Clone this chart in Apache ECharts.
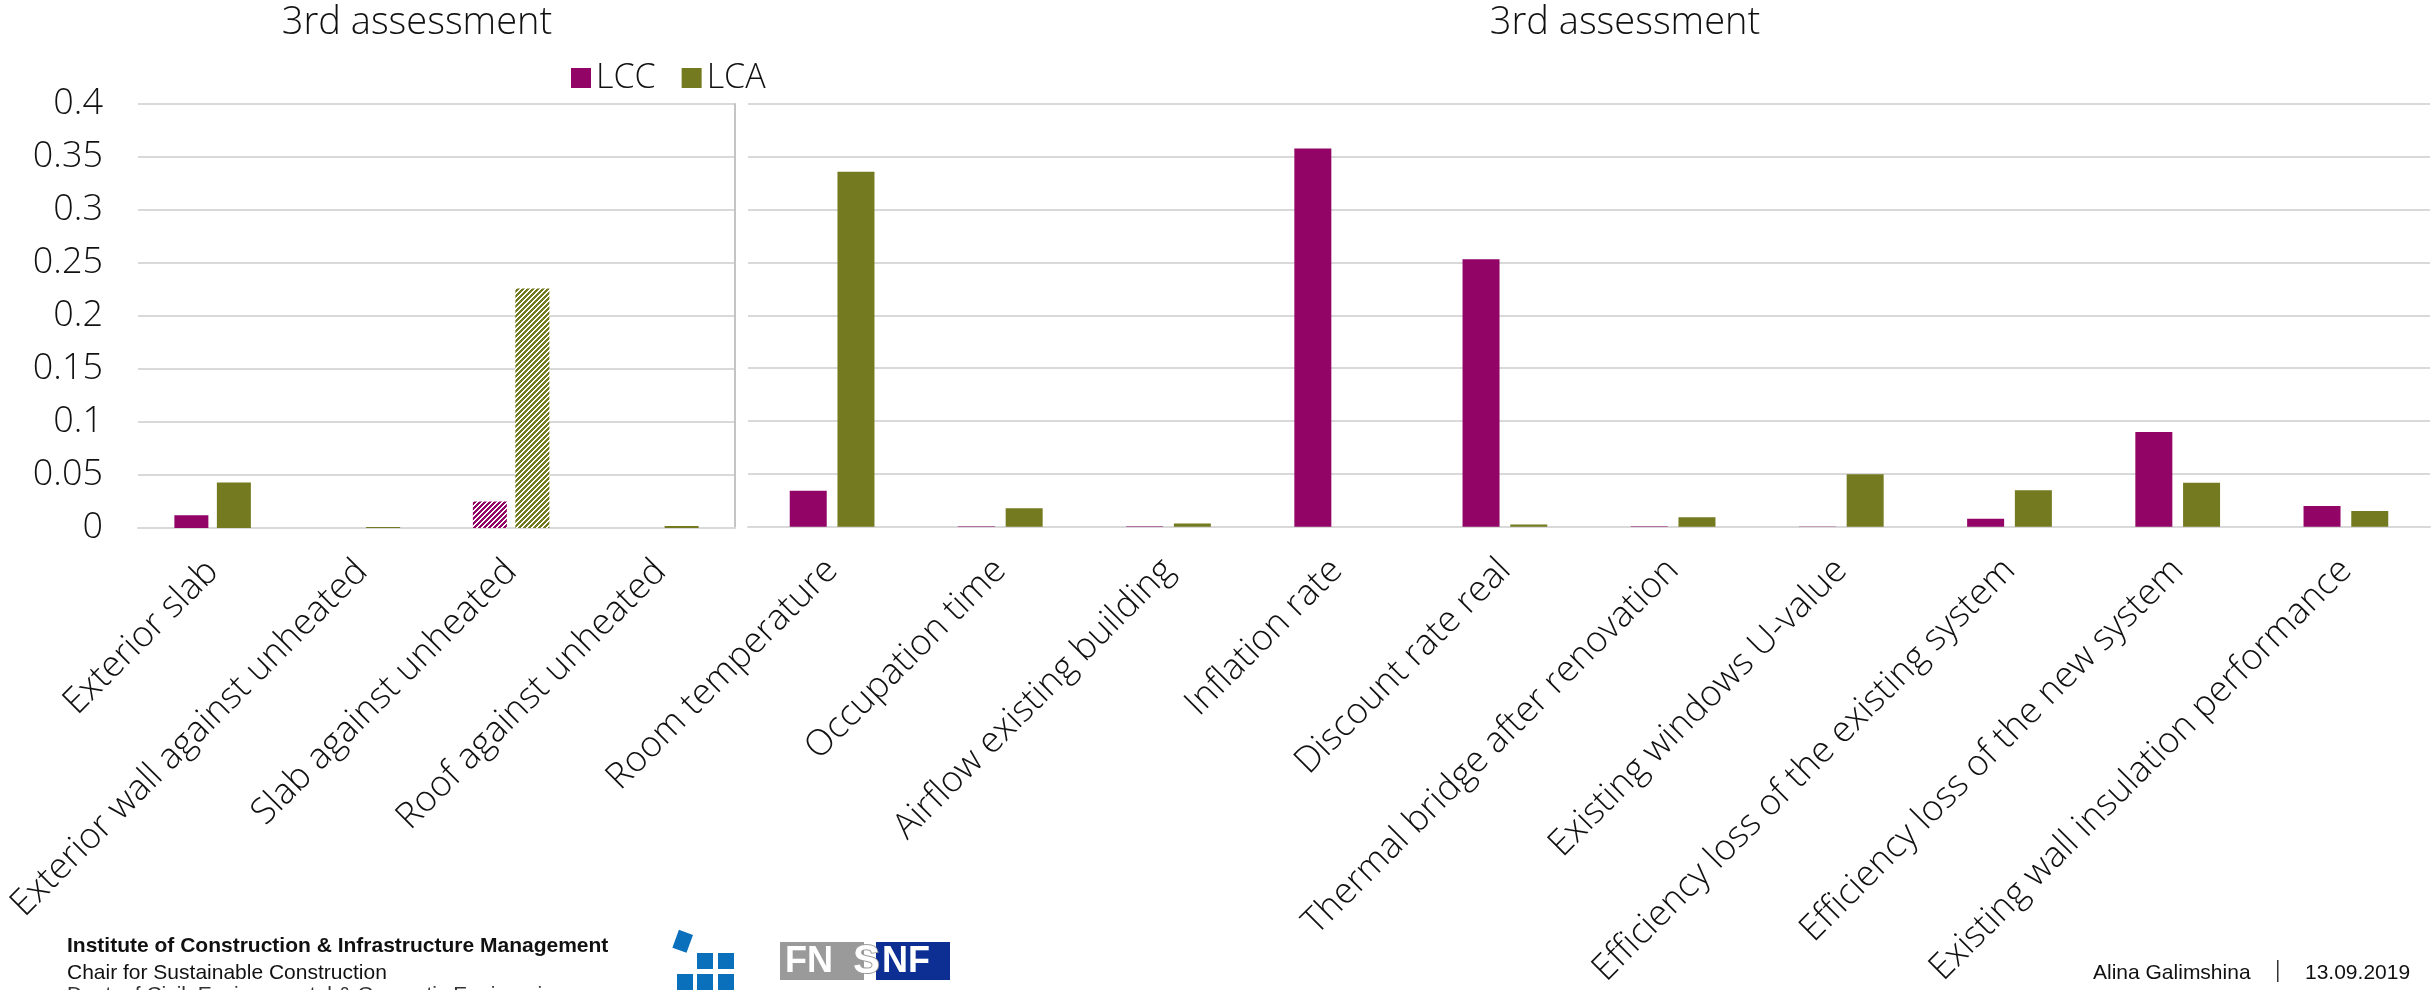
<!DOCTYPE html>
<html>
<head>
<meta charset="utf-8">
<title>3rd assessment – LCC / LCA sensitivity</title>
<script src="https://cdn.jsdelivr.net/npm/echarts@6/dist/echarts.min.js"></script>
<style>
  html, body { margin: 0; padding: 0; background: #fff; }
  #chart { width: 2432px; height: 990px; }
</style>
</head>
<body>
<div id="chart"></div>
<script>
// Building-element parameters (left panel)
const elementCategories = [
  'Exterior slab',
  'Exterior wall against unheated',
  'Slab against unheated',
  'Roof against unheated'
];
const elementLCC = [0.012, 0, 0.025, 0];
const elementLCA = [0.043, 0.001, 0.226, 0.002];
// elements drawn with a hatched fill
const hatchedElements = ['Slab against unheated'];

// Operational / economic parameters (right panel)
const parameterCategories = [
  'Room temperature',
  'Occupation time',
  'Airflow existing building',
  'Inflation rate',
  'Discount rate real',
  'Thermal bridge after renovation',
  'Existing windows U-value',
  'Efficiency loss of the existing system',
  'Efficiency loss of the new system',
  'Existing wall insulation performance'
];
const parameterLCC = [0.034, 0.0005, 0.0005, 0.358, 0.253, 0.0005, 0.0002, 0.0075, 0.0895, 0.0195];
const parameterLCA = [0.336, 0.0175, 0.003, 0, 0.002, 0.0089, 0.0497, 0.0345, 0.0415, 0.0148];

const yTicks = { min: 0, max: 0.4, interval: 0.05 };
const seriesNames = ['LCC', 'LCA'];
const titleText = '3rd assessment';

const COLORS = { LCC: '#920567', LCA: '#747a1f' };
const FONT = "'Open Sans', 'DejaVu Sans', sans-serif";
const FOOT_FONT = "'Liberation Sans', Arial, sans-serif";

// diagonal "/" stripe tile for hatched bars
function stripePattern(color) {
  const n = 5;
  const c = document.createElement('canvas');
  c.width = n; c.height = n;
  const ctx = c.getContext('2d');
  ctx.fillStyle = '#ffffff';
  ctx.fillRect(0, 0, n, n);
  ctx.fillStyle = color;
  for (let x = 0; x < n; x++) {
    for (let y = 0; y < n; y++) {
      if ((x + y) % n < 3) ctx.fillRect(x, y, 1, 1);
    }
  }
  return { image: c, repeat: 'repeat' };
}

function barData(values, categories, name) {
  return values.map((v, i) => {
    if (hatchedElements.includes(categories[i])) {
      return { value: v, itemStyle: { color: stripePattern(COLORS[name]) } };
    }
    return v;
  });
}

const GRID_TOP = 104, GRID_H = 424;

const chart = echarts.init(document.getElementById('chart'), null, { renderer: 'canvas' });

const catAxisCommon = {
  type: 'category',
  axisTick: { show: false },
  axisLine: { show: true, lineStyle: { color: '#d9d9d9', width: 2 } },
  axisLabel: {
    rotate: 45,
    interval: 0,
    margin: 38,
    fontSize: 36,
    fontFamily: FONT,
    fontWeight: 300,
    color: '#111'
  }
};

const valAxisCommon = {
  type: 'value',
  min: yTicks.min, max: yTicks.max, interval: yTicks.interval,
  splitLine: { show: true, lineStyle: { color: '#d9d9d9', width: 2 } },
  axisLine: { show: false },
  axisTick: { show: false }
};

chart.setOption({
  animation: false,
  backgroundColor: '#ffffff',
  textStyle: { fontFamily: FONT },
  legend: {
    data: seriesNames,
    left: 566, top: 56,
    icon: 'rect',
    itemWidth: 20, itemHeight: 20,
    itemGap: 26,
    textStyle: { fontSize: 34, fontFamily: FONT, fontWeight: 300, color: '#111', padding: [0, 0, 0, 0] }
  },
  grid: [
    { left: 138, top: GRID_TOP, width: 597, height: GRID_H },
    { left: 748, top: GRID_TOP, width: 1682, height: GRID_H }
  ],
  xAxis: [
    Object.assign({}, catAxisCommon, { gridIndex: 0, data: elementCategories }),
    Object.assign({}, catAxisCommon, { gridIndex: 1, data: parameterCategories })
  ],
  yAxis: [
    Object.assign({}, valAxisCommon, {
      gridIndex: 0,
      axisLabel: { fontSize: 36, fontFamily: FONT, fontWeight: 300, color: '#111', margin: 35 }
    }),
    {
      type: 'value', gridIndex: 0, position: 'right',
      min: yTicks.min, max: yTicks.max, interval: yTicks.interval,
      axisLine: { show: true, lineStyle: { color: '#c4c4c4', width: 2 } },
      axisLabel: { show: false }, axisTick: { show: false }, splitLine: { show: false }
    },
    Object.assign({}, valAxisCommon, { gridIndex: 1, axisLabel: { show: false } })
  ],
  series: [
    {
      name: 'LCC', type: 'bar', xAxisIndex: 0, yAxisIndex: 0,
      barWidth: 34, barGap: '25%',
      itemStyle: { color: COLORS.LCC },
      data: barData(elementLCC, elementCategories, 'LCC')
    },
    {
      name: 'LCA', type: 'bar', xAxisIndex: 0, yAxisIndex: 0,
      barWidth: 34, barGap: '25%',
      itemStyle: { color: COLORS.LCA },
      data: barData(elementLCA, elementCategories, 'LCA')
    },
    {
      name: 'LCC', type: 'bar', xAxisIndex: 1, yAxisIndex: 2,
      barWidth: 37, barGap: '29%',
      itemStyle: { color: COLORS.LCC },
      data: parameterLCC
    },
    {
      name: 'LCA', type: 'bar', xAxisIndex: 1, yAxisIndex: 2,
      barWidth: 37, barGap: '29%',
      itemStyle: { color: COLORS.LCA },
      data: parameterLCA
    }
  ],
  graphic: [
    // panel headings
    { type: 'text', x: 417, y: 23, style: { text: titleText, fontSize: 38, fontFamily: FONT, fontWeight: 300, fill: '#111', align: 'center', verticalAlign: 'middle' } },
    { type: 'text', x: 1625, y: 23, style: { text: titleText, fontSize: 38, fontFamily: FONT, fontWeight: 300, fill: '#111', align: 'center', verticalAlign: 'middle' } },

    // footer: institute block
    { type: 'text', x: 67, y: 946, style: { text: 'Institute of Construction & Infrastructure Management', fontSize: 21, fontWeight: 'bold', fontFamily: FOOT_FONT, fill: '#111', verticalAlign: 'middle' } },
    { type: 'text', x: 67, y: 973, style: { text: 'Chair for Sustainable Construction', fontSize: 21, fontFamily: FOOT_FONT, fill: '#111', verticalAlign: 'middle' } },
    { type: 'text', x: 67, y: 995, style: { text: 'Dept. of Civil, Environmental & Geomatic Engineering', fontSize: 21, fontFamily: FOOT_FONT, fill: '#333', verticalAlign: 'middle' } },

    // footer: blue square mark
    { type: 'rect', x: 683, y: 942, originX: 0, originY: 0, rotation: -0.35, shape: { x: -8, y: -10, width: 15, height: 19 }, style: { fill: '#0a70bc' } },
    { type: 'rect', shape: { x: 697, y: 953, width: 16, height: 16 }, style: { fill: '#0a70bc' } },
    { type: 'rect', shape: { x: 718, y: 953, width: 16, height: 16 }, style: { fill: '#0a70bc' } },
    { type: 'rect', shape: { x: 677, y: 974, width: 16, height: 16 }, style: { fill: '#0a70bc' } },
    { type: 'rect', shape: { x: 697, y: 974, width: 16, height: 16 }, style: { fill: '#0a70bc' } },
    { type: 'rect', shape: { x: 718, y: 974, width: 16, height: 16 }, style: { fill: '#0a70bc' } },

    // footer: FNSNF logo
    { type: 'rect', shape: { x: 780, y: 942, width: 84, height: 38 }, style: { fill: '#9a9a9a' } },
    { type: 'rect', shape: { x: 876, y: 942, width: 74, height: 38 }, style: { fill: '#0d2f94' } },
    { type: 'text', x: 785, y: 962, style: { text: 'FN', fontSize: 36, fontWeight: 'bold', fontFamily: FOOT_FONT, fill: '#ffffff', verticalAlign: 'middle' } },
    { type: 'text', x: 853, y: 962, style: { text: 'S', fontSize: 40, fontWeight: 'bold', fontFamily: FOOT_FONT, fill: '#ffffff', stroke: '#9a9a9a', lineWidth: 2, verticalAlign: 'middle' } },
    { type: 'text', x: 882, y: 962, style: { text: 'NF', fontSize: 36, fontWeight: 'bold', fontFamily: FOOT_FONT, fill: '#ffffff', verticalAlign: 'middle' } },

    // footer: author and date
    { type: 'text', x: 2093, y: 973, style: { text: 'Alina Galimshina', fontSize: 21, fontFamily: FOOT_FONT, fill: '#111', verticalAlign: 'middle' } },
    { type: 'rect', shape: { x: 2277, y: 960, width: 1.5, height: 22 }, style: { fill: '#333' } },
    { type: 'text', x: 2305, y: 973, style: { text: '13.09.2019', fontSize: 21, fontFamily: FOOT_FONT, fill: '#111', verticalAlign: 'middle' } }
  ]
});
</script>
</body>
</html>
